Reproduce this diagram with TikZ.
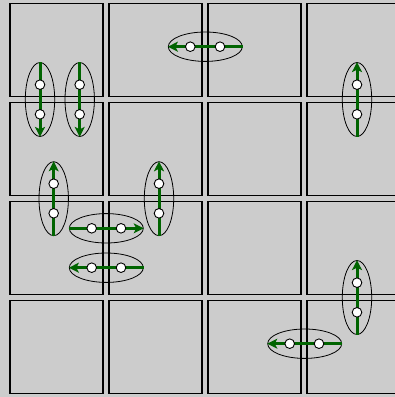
\documentclass[tikz,border=0pt]{standalone}
\usetikzlibrary{shapes.geometric,arrows.meta}
\definecolor{bg}{HTML}{CCCCCC}
\definecolor{dgreen}{HTML}{006400}
\tikzset{
  cell/.style={draw=black,fill=bg,line width=1.1pt},
  hell/.style={ellipse,draw=black,line width=0.8pt,minimum width=74pt,minimum height=29.4pt,inner sep=0pt},
  vell/.style={ellipse,draw=black,line width=0.8pt,minimum width=29.4pt,minimum height=74pt,inner sep=0pt},
  arr/.style={draw=dgreen,line width=3pt,-{Stealth[length=10pt,width=10pt,inset=2.5pt]}},
  dot/.style={circle,draw=black,fill=white,line width=0.9pt,minimum size=9.6pt,inner sep=0pt}
}
\begin{document}
\begin{tikzpicture}[x=1pt,y=-1pt]
\useasboundingbox (0,0) rectangle (395,397);
\clip (0,0) rectangle (395,397);
\fill[bg] (0,0) rectangle (395,397);
\foreach \i in {0,1,2,3}{
  \foreach \j in {0,1,2,3}{
    \draw[cell] ({10+99*\i},{3.7+99*\j}) rectangle ++(93,93);
  }
}
% ellipses
\node[hell] (e1) at (205.3,46.7) {};
\node[vell] (e2) at (40,99.5) {};
\node[vell] (e3) at (79.7,99.5) {};
\node[vell] (e4) at (357,99.5) {};
\node[vell] (e5) at (53.7,198.7) {};
\node[vell] (e6) at (159,198.7) {};
\node[hell] (e7) at (106.3,228.3) {};
\node[hell] (e8) at (106.3,267.7) {};
\node[vell] (e9) at (357,297.5) {};
\node[hell] (e10) at (304.7,343.7) {};
% arrows
\draw[arr] (e1.east) -- (e1.west);
\draw[arr] (e2.north) -- (e2.south);
\draw[arr] (e3.north) -- (e3.south);
\draw[arr] (e4.south) -- (e4.north);
\draw[arr] (e5.south) -- (e5.north);
\draw[arr] (e6.south) -- (e6.north);
\draw[arr] (e7.west) -- (e7.east);
\draw[arr] (e8.east) -- (e8.west);
\draw[arr] (e9.south) -- (e9.north);
\draw[arr] (e10.east) -- (e10.west);
% dots
\node[dot] (a1) at (190.3,46.7) {};
\node[dot] (b1) at (220,46.7) {};
\node[dot] (a2) at (40,84.7) {};
\node[dot] (b2) at (40,114.3) {};
\node[dot] (a3) at (79.7,84.7) {};
\node[dot] (b3) at (79.7,114.3) {};
\node[dot] (a4) at (357,84.7) {};
\node[dot] (b4) at (357,114.3) {};
\node[dot] (a5) at (53.7,183.7) {};
\node[dot] (b5) at (53.7,213.3) {};
\node[dot] (a6) at (159,183.7) {};
\node[dot] (b6) at (159,213.3) {};
\node[dot] (a7) at (91.7,228.3) {};
\node[dot] (b7) at (121,228.3) {};
\node[dot] (a8) at (91.7,267.7) {};
\node[dot] (b8) at (121,267.7) {};
\node[dot] (a9) at (357,282.7) {};
\node[dot] (b9) at (357,312.3) {};
\node[dot] (a10) at (289.7,343.7) {};
\node[dot] (b10) at (319,343.7) {};
\end{tikzpicture}
\end{document}
